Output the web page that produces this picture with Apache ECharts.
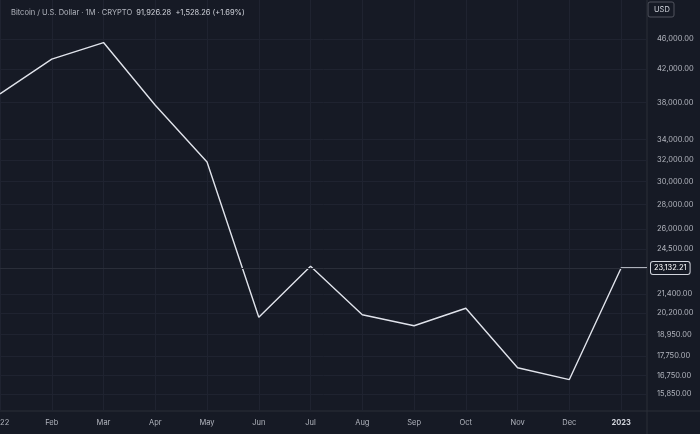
<!DOCTYPE html>
<html><head><meta charset="utf-8">
<script src="https://cdn.jsdelivr.net/npm/echarts@6/dist/echarts.min.js"></script>
<style>html,body{margin:0;background:#161a25}#c{width:700px;height:434px}</style>
</head><body><div id="c"></div>
<script>
// monthly closes, Jan 2022 .. Jan 2023 (last one is the current price segment)
var months = ['2022','Feb','Mar','Apr','May','Jun','Jul','Aug','Sep','Oct','Nov','Dec','2023'];
var closes = [39000,43300,45500,37700,31800,19950,23250,20100,19450,20500,17150,16550,23132.21];
var lastPrice = 23132.21;
var priceTicks = [15850,16750,17750,18950,20200,21400,24500,26000,28000,30000,32000,34000,38000,42000,46000];

var pts = closes.map(function(v,i){return [i,v];});
pts.push([12.5,lastPrice]);

var fmt = function(v){return v.toLocaleString('en-US',{minimumFractionDigits:2,maximumFractionDigits:2});};

var chart = echarts.init(document.getElementById('c'));
chart.setOption({
  backgroundColor:'#161a25',
  animation:false,
  title:{
    text:'Bitcoin / U.S. Dollar · 1M · CRYPTO  {v|91,926.28  +1,528.26 (+1.69%)}',
    left:6, top:4,
    textStyle:{color:'#b2b5be',fontSize:7.5,fontWeight:'normal',fontFamily:'Inter',
      rich:{v:{color:'#d1d4dc',fontSize:7.5,fontFamily:'Inter'}}}
  },
  graphic:[
    {type:'rect',shape:{x:648,y:2,width:26,height:15,r:2},style:{fill:'#161a25',stroke:'#50535e',lineWidth:1}},
    {type:'text',x:654,y:6,style:{text:'USD',fill:'#d1d4dc',font:'7.5px Inter'}},
    {type:'line',shape:{x1:647,y1:0,x2:647,y2:434},style:{stroke:'#2a2e39',lineWidth:1}},
    {type:'line',shape:{x1:0,y1:411,x2:700,y2:411},style:{stroke:'#2a2e39',lineWidth:1}}
  ],
  grid:{left:0,right:53,top:0,bottom:23,containLabel:false,outerBoundsMode:'none'},
  xAxis:{
    type:'value', min:0, max:12.5,
    axisLine:{show:false},
    splitLine:{show:true,lineStyle:{color:'#1f2330'}},
    axisTick:{show:false,customValues:[0,1,2,3,4,5,6,7,8,9,10,11,12]},
    axisLabel:{customValues:[0,1,2,3,4,5,6,7,8,9,10,11,12],color:'#b2b5be',fontSize:7.5,fontFamily:'Inter',margin:8,
      formatter:function(v){var i=Math.round(v);return i===12?'{b|2023}':months[i];},
      rich:{b:{color:'#d1d4dc',fontWeight:'bold',fontSize:7.5,fontFamily:'Inter'}}}
  },
  yAxis:{
    type:'log', position:'right', min:15060, max:51700,
    axisLine:{show:false},
    axisTick:{show:false,customValues:priceTicks},
    splitLine:{show:true,lineStyle:{color:'#1f2330'}},
    axisLabel:{customValues:priceTicks,color:'#b2b5be',fontSize:7.5,fontFamily:'Inter',margin:10,formatter:fmt}
  },
  series:[{
    type:'line', data:pts, symbol:'none',
    lineStyle:{color:'#e0e3eb',width:1.4},
    markLine:{symbol:'none',silent:true,
      lineStyle:{color:'#2a2e39',type:'solid',width:1},
      label:{position:'end',formatter:function(){return fmt(lastPrice);},color:'#ffffff',fontSize:7.5,fontFamily:'Inter',
        backgroundColor:'#161a25',borderColor:'#d1d4dc',borderWidth:1,borderRadius:2,padding:[2,3],distance:4},
      data:[{yAxis:lastPrice}]}
  }]
});
</script></body></html>
